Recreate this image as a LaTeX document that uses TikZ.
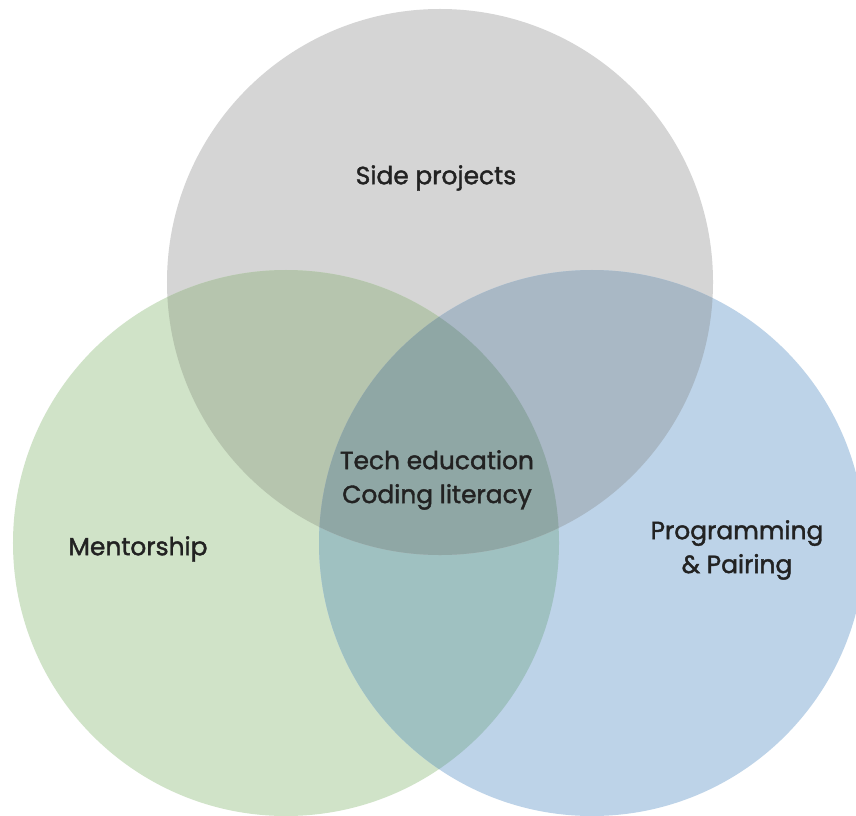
\documentclass[tikz,border=0pt]{standalone}
\usepackage{fontspec}
\setmainfont{Poppins}
\newfontfamily\labelfont{Poppins}[FakeBold=1.6]

% region colours of the three-set Venn diagram
\definecolor{sideonly}{HTML}{D5D5D5}
\definecolor{mentonly}{HTML}{D0E3C8}
\definecolor{progonly}{HTML}{BDD3E8}
\definecolor{sidement}{HTML}{B6C5AE}
\definecolor{sideprog}{HTML}{A9B8C5}
\definecolor{mentprog}{HTML}{9FC1C1}
\definecolor{allthree}{HTML}{8FA7A5}
\definecolor{labelink}{HTML}{222222}

\tikzset{
  setlabel/.style={text=labelink, align=center, inner sep=0pt,
    font=\labelfont\fontsize{25}{34}\selectfont}
}

\begin{document}
\begin{tikzpicture}[x=1bp, y=-1bp]
  \useasboundingbox (0,0) rectangle (856,816);
  \fill[white] (0,0) rectangle (856,816);

  \def\R{273bp}
  \coordinate (side) at (440,282);
  \coordinate (ment) at (286,543);
  \coordinate (prog) at (592,543);

  % single sets
  \fill[sideonly] (side) circle[radius=\R];
  \fill[mentonly] (ment) circle[radius=\R];
  \fill[progonly] (prog) circle[radius=\R];

  % mentorship and programming
  \begin{scope}
    \clip (ment) circle[radius=\R];
    \fill[mentprog] (prog) circle[radius=\R];
  \end{scope}

  % overlaps with side projects
  \begin{scope}
    \clip (side) circle[radius=\R];
    \fill[sidement] (ment) circle[radius=\R];
    \fill[sideprog] (prog) circle[radius=\R];
    \clip (ment) circle[radius=\R];
    \fill[allthree] (prog) circle[radius=\R];
  \end{scope}

  % labels
  \node[setlabel] (sidelbl) at (436,178) {Side projects};
  \node[setlabel] (mentlbl) at (138,549) {Mentorship};
  \node[setlabel] (proglbl) at (737,550) {Programming\\\& Pairing};
  \node[setlabel] (corelbl) at (437,480) {Tech education\\Coding literacy};
\end{tikzpicture}
\end{document}
